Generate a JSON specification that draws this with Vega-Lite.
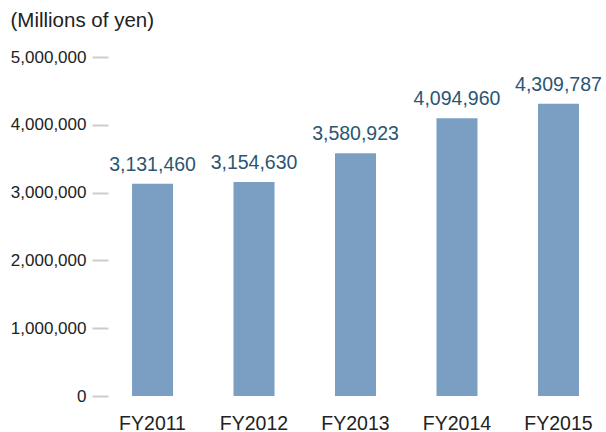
{
  "$schema": "https://vega.github.io/schema/vega-lite/v6.json",
  "width": 495,
  "height": 339,
  "autosize": {"type": "none"},
  "padding": {"left": 108, "top": 57, "right": 3, "bottom": 36},
  "background": "white",
  "config": {"view": {"stroke": null}, "font": "Liberation Sans"},
  "data": {
    "values": [
      {"year": "FY2011", "value": 3131460},
      {"year": "FY2012", "value": 3154630},
      {"year": "FY2013", "value": 3580923},
      {"year": "FY2014", "value": 4094960},
      {"year": "FY2015", "value": 4309787}
    ]
  },
  "encoding": {
    "x": {
      "field": "year",
      "type": "nominal",
      "sort": null,
      "scale": {"paddingInner": 0.5957, "paddingOuter": 0.2367},
      "axis": {
        "title": null,
        "labelAngle": 0,
        "domain": false,
        "ticks": false,
        "tickSize": 0,
        "labelPadding": 18,
        "labelFontSize": 19.5,
        "labelColor": "#222222"
      }
    },
    "y": {
      "field": "value",
      "type": "quantitative",
      "scale": {"domain": [0, 5000000], "nice": false},
      "axis": {
        "title": "(Millions of yen)",
        "titleAngle": 0,
        "titleAlign": "left",
        "titleBaseline": "alphabetic",
        "titleX": -98,
        "titleY": -31,
        "titleFontSize": 20.5,
        "titleFontWeight": "normal",
        "titleColor": "#222222",
        "values": [0, 1000000, 2000000, 3000000, 4000000, 5000000],
        "format": ",d",
        "labelFontSize": 17,
        "labelColor": "#222222",
        "labelPadding": 6,
        "tickSize": 16,
        "tickWidth": 2,
        "tickColor": "#cccccc",
        "domain": false,
        "grid": false
      }
    }
  },
  "layer": [
    {"mark": {"type": "bar", "color": "#7b9fc2"}},
    {
      "mark": {
        "type": "text",
        "dy": -13,
        "baseline": "alphabetic",
        "fontSize": 19.5,
        "color": "#2b5673"
      },
      "encoding": {"text": {"field": "value", "type": "quantitative", "format": ",d"}}
    }
  ]
}
